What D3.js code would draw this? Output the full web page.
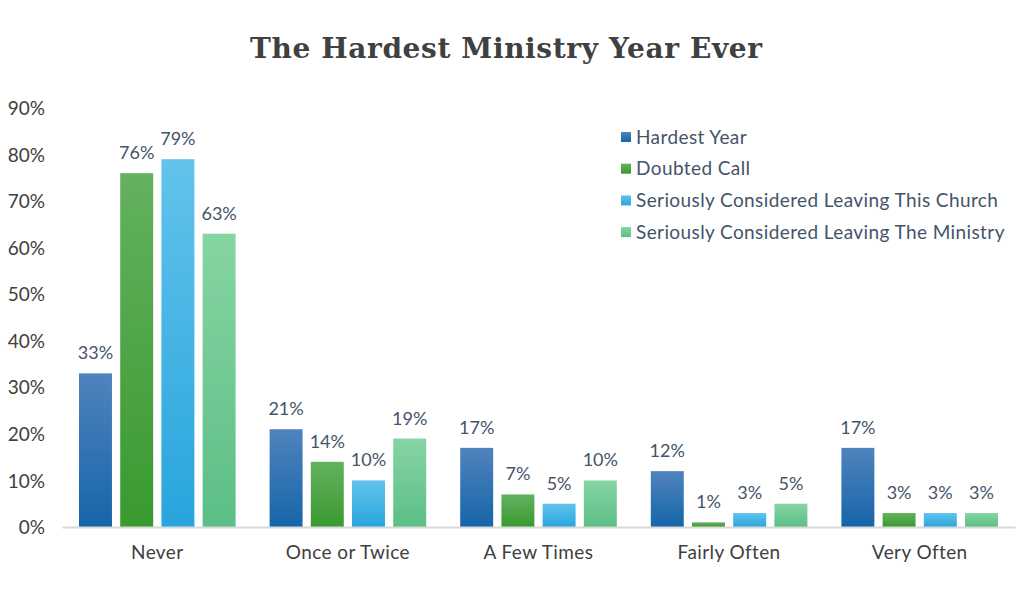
<!DOCTYPE html>
<html><head><meta charset="utf-8">
<script src="https://cdn.jsdelivr.net/npm/d3@7"></script>
<style>body{margin:0;background:#fff}svg{display:block}</style>
</head><body><svg id="c" width="1021" height="601"></svg>
<script>
const categories = ["Never", "Once or Twice", "A Few Times", "Fairly Often", "Very Often"];
const seriesNames = ["Hardest Year", "Doubted Call", "Seriously Considered Leaving This Church", "Seriously Considered Leaving The Ministry"];
const hardestYear = [33, 21, 17, 12, 17];
const doubtedCall = [76, 14, 7, 1, 3];
const leavingChurch = [79, 10, 5, 3, 3];
const leavingMinistry = [63, 19, 10, 5, 3];
const yTicks = [0, 10, 20, 30, 40, 50, 60, 70, 80, 90];
const seriesValues = [hardestYear, doubtedCall, leavingChurch, leavingMinistry];
const gradStops = [["#5083bd", "#1565a8"], ["#64b160", "#399a2f"], ["#62c3ec", "#28a5dc"], ["#86d5a3", "#5cbe86"]];

(function () {
const svg = d3.select("#c");
const pLeft = 62, pRight = 1015, pTop = 108, pBottom = 527;
const y = d3.scaleLinear().domain([0, 90]).range([pBottom, pTop]);
const x0 = d3.scaleBand().domain(categories).range([pLeft, pRight]).padding(0);
const x1 = d3.scaleBand().domain(d3.range(4)).range([17, x0.bandwidth() - 17]).paddingInner(0.2).paddingOuter(0);

const defs = svg.append("defs");
gradStops.forEach((g, i) => {
  const lg = defs.append("linearGradient").attr("id", "g" + i).attr("x1", 0).attr("y1", 0).attr("x2", 0).attr("y2", 1);
  lg.append("stop").attr("offset", "0%").attr("stop-color", g[0]);
  lg.append("stop").attr("offset", "100%").attr("stop-color", g[1]);
});

svg.append("text").attr("x", 506).attr("y", 58).attr("text-anchor", "middle")
  .attr("font-family", "DejaVu Serif").attr("font-weight", "bold").attr("font-size", 28)
  .attr("textLength", 512).attr("lengthAdjust", "spacing")
  .attr("fill", "#404040").text("The Hardest Ministry Year Ever");

const yAxis = d3.axisLeft(y).tickValues(yTicks).tickSize(0).tickPadding(0).tickFormat(d => d + "%");
const ya = svg.append("g").attr("transform", `translate(45,0)`).call(yAxis);
ya.select(".domain").remove();
ya.selectAll("text").attr("font-family", "Lato").attr("font-size", 19).attr("fill", "#404040").attr("dy", "0.35em");

const groups = svg.append("g").selectAll("g").data(categories).join("g")
  .attr("transform", d => `translate(${x0(d)},0)`);
groups.selectAll("rect").data((d, ci) => seriesValues.map((s, si) => ({si, v: s[ci]}))).join("rect")
  .attr("x", d => x1(d.si)).attr("width", x1.bandwidth())
  .attr("y", d => y(d.v)).attr("height", d => y(0) - y(d.v))
  .attr("fill", d => `url(#g${d.si})`);
groups.selectAll("text.lbl").data((d, ci) => seriesValues.map((s, si) => ({si, v: s[ci]}))).join("text")
  .attr("class", "lbl")
  .attr("x", d => x1(d.si) + x1.bandwidth() / 2).attr("y", d => y(d.v) - 14)
  .attr("text-anchor", "middle").attr("font-family", "Lato").attr("font-size", 18)
  .attr("fill", "#44546a").text(d => d.v + "%");

const xAxis = d3.axisBottom(x0).tickSize(0).tickPadding(19);
const xa = svg.append("g").attr("transform", `translate(0,${pBottom})`).call(xAxis);
xa.select(".domain").attr("stroke", "#d9d9d9").attr("stroke-width", 2);
xa.selectAll("text").attr("font-family", "Lato").attr("font-size", 19).attr("letter-spacing", "0.4px").attr("fill", "#404040");

const leg = svg.append("g").attr("transform", "translate(621,137)");
const items = leg.selectAll("g").data(seriesNames).join("g").attr("transform", (d, i) => `translate(0,${i * 31.7})`);
items.append("rect").attr("x", 0).attr("y", -5).attr("width", 10).attr("height", 10).attr("fill", (d, i) => `url(#g${i})`);
items.append("text").attr("x", 15).attr("y", 0).attr("dy", "0.35em").attr("font-family", "Lato").attr("font-size", 19)
  .attr("letter-spacing", "0.4px").attr("fill", "#44546a").text(d => d);
})();
</script></body></html>
